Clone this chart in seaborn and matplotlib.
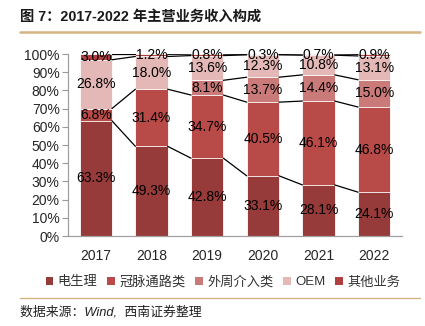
import numpy as np
import pandas as pd
import matplotlib
matplotlib.use("Agg")
import matplotlib.pyplot as plt
import seaborn as sns
from matplotlib.patches import Patch

years = ["2017", "2018", "2019", "2020", "2021", "2022"]
series_names = ["电生理", "冠脉通路类", "外周介入类", "OEM", "其他业务"]
ep = [63.3, 49.3, 42.8, 33.1, 28.1, 24.1]
coronary = [6.8, 31.4, 34.7, 40.5, 46.1, 46.8]
peripheral = [np.nan, np.nan, 8.1, 13.7, 14.4, 15.0]
oem = [26.8, 18.0, 13.6, 12.3, 10.8, 13.1]
other = [3.0, 1.2, 0.8, 0.3, 0.7, 0.9]
colors = ["#973A3A", "#B84A48", "#CA7A78", "#E4B8B7", "#B04040"]

sns.set_theme(style="white")
plt.rcParams["font.family"] = ["Liberation Sans", "Noto Sans CJK SC"]

fig = plt.figure(figsize=(4.25, 3.26), dpi=100)
ax = fig.add_axes([0.16, 0.276, 0.786, 0.558])

vals = [ep, coronary, peripheral, oem, other]
arr = np.nan_to_num(np.array(vals, dtype=float))
cum = np.cumsum(arr, axis=0)

width = 0.58
# draw from top layer down so lower layers overlay
for i in range(len(series_names) - 1, -1, -1):
    df = pd.DataFrame({"year": years, "v": cum[i]})
    sns.barplot(data=df, x="year", y="v", color=colors[i], width=width,
                ax=ax, saturation=1, edgecolor="white", linewidth=0.6,
                errorbar=None, order=years)

# value labels
for i in range(len(series_names)):
    for j in range(len(years)):
        v = vals[i][j]
        if np.isnan(v):
            continue
        mid = cum[i][j] - arr[i][j] / 2
        ax.text(j, mid, f"{v:.1f}%", ha="center", va="center",
                fontsize=10, color="black")

# series lines
for i in range(len(series_names)):
    for j in range(len(years) - 1):
        if np.isnan(vals[i][j]) or np.isnan(vals[i][j + 1]):
            continue
        ax.plot([j + width / 2, j + 1 - width / 2], [cum[i][j], cum[i][j + 1]],
                color="black", lw=0.9, zorder=5)

ax.set_xlim(-0.5, len(years) - 0.5)
ax.set_ylim(0, 100)
ax.set_yticks(np.arange(0, 101, 10))
ax.set_yticklabels([f"{t}%" for t in range(0, 101, 10)], fontsize=10)
ax.set_xlabel("")
ax.set_ylabel("")
ax.tick_params(axis="x", labelsize=10, length=0, pad=9)
ax.tick_params(axis="y", length=4, width=0.8, color="#999999", direction="out", left=True, pad=2)
for s in ["top", "right"]:
    ax.spines[s].set_visible(False)
for s in ["left", "bottom"]:
    ax.spines[s].set_color("#A0A0A0")
    ax.spines[s].set_linewidth(0.9)

# legend
handles = [Patch(facecolor=c, edgecolor="none") for c in colors]
fig.legend(handles, series_names, loc="center", bbox_to_anchor=(0.525, 0.135),
           ncol=5, frameon=False, fontsize=9.5, handlelength=0.55, handleheight=0.55,
           handletextpad=0.35, columnspacing=0.75, labelcolor="#333333")

# title and decorations
fig.text(0.047, 0.948, "图 7：2017-2022 年主营业务收入构成", fontsize=10.3,
         fontweight="bold", ha="left", va="center", color="#1a1a1a",
         family=["Liberation Sans", "Noto Sans CJK SC"])
fig.add_artist(plt.Line2D([0.047, 0.988], [0.903, 0.903], color="#D4B483", lw=1.8))
fig.add_artist(plt.Line2D([0.047, 0.988], [0.086, 0.086], color="#D4B483", lw=1.0))
fig.text(0.047, 0.042, "数据来源：Wind,  西南证券整理", fontsize=9.3, style="italic",
         ha="left", va="center", color="#222222",
         family=["Liberation Sans", "Noto Sans CJK SC"])

fig.savefig("out.png", dpi=100)
